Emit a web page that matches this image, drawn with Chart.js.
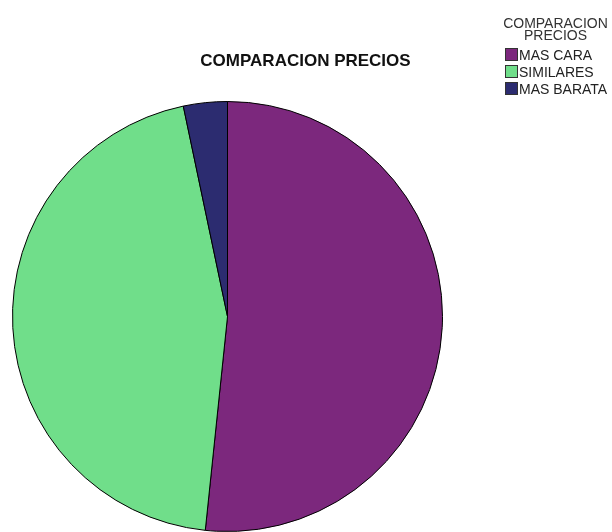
<!DOCTYPE html>
<html>
<head>
<meta charset="utf-8">
<script src="https://cdn.jsdelivr.net/npm/chart.js@4/dist/chart.umd.min.js"></script>
<style>
  html, body { margin: 0; padding: 0; background: #fff; }
  #wrap { position: relative; width: 612px; height: 532px; overflow: hidden; font-family: "Liberation Sans", Arial, sans-serif; }
  #chartBox { position: absolute; left: 0; top: 0; width: 612px; height: 532px; }
  #title { position: absolute; left: 0; top: 51.6px; width: 611px; text-align: center; font-weight: bold; font-size: 17px; line-height: 17px; color: #111; }
  #legTitle { position: absolute; left: 500px; top: 18.4px; width: 111px; text-align: center; font-size: 14px; line-height: 11.6px; color: #333; }
  .item { position: absolute; left: 505px; height: 14px; font-size: 14px; line-height: 14px; color: #222; white-space: nowrap; }
  .item .sw { position: absolute; left: 0; top: 0; width: 11px; height: 11px; border: 1px solid #333; }
  .item .tx { position: absolute; left: 14px; top: 0; }
</style>
</head>
<body>
<div id="wrap">
  <div id="chartBox"><canvas id="c"></canvas></div>
  <div id="title"></div>
  <div id="legTitle"></div>
  <div id="legend"></div>
</div>
<script>
const chartTitle = "COMPARACION PRECIOS";
const legendTitle = ["COMPARACION", "PRECIOS"];
const categories = ["MAS CARA", "SIMILARES", "MAS BARATA"];
const counts = [47, 41, 3];
const colors = ["#7C287D", "#70DE8A", "#2C2C70"];

document.getElementById('title').textContent = chartTitle;
document.getElementById('legTitle').innerHTML = legendTitle.map(s => '<div>' + s + '</div>').join('');
const leg = document.getElementById('legend');
categories.forEach((cat, i) => {
  const d = document.createElement('div');
  d.className = 'item';
  d.style.top = (47.8 + i * 17.3) + 'px';
  const sw = document.createElement('div');
  sw.className = 'sw';
  sw.style.background = colors[i];
  const tx = document.createElement('div');
  tx.className = 'tx';
  tx.textContent = cat;
  d.appendChild(sw); d.appendChild(tx);
  leg.appendChild(d);
});

new Chart(document.getElementById('c'), {
  type: 'pie',
  data: {
    labels: categories,
    datasets: [{
      data: counts,
      backgroundColor: colors,
      borderColor: '#000',
      borderWidth: 1
    }]
  },
  options: {
    responsive: true,
    maintainAspectRatio: false,
    animation: false,
    layout: { padding: { left: 11, top: 101, right: 168, bottom: -3 } },
    plugins: { legend: { display: false }, title: { display: false }, tooltip: { enabled: false } }
  }
});
</script>
</body>
</html>
